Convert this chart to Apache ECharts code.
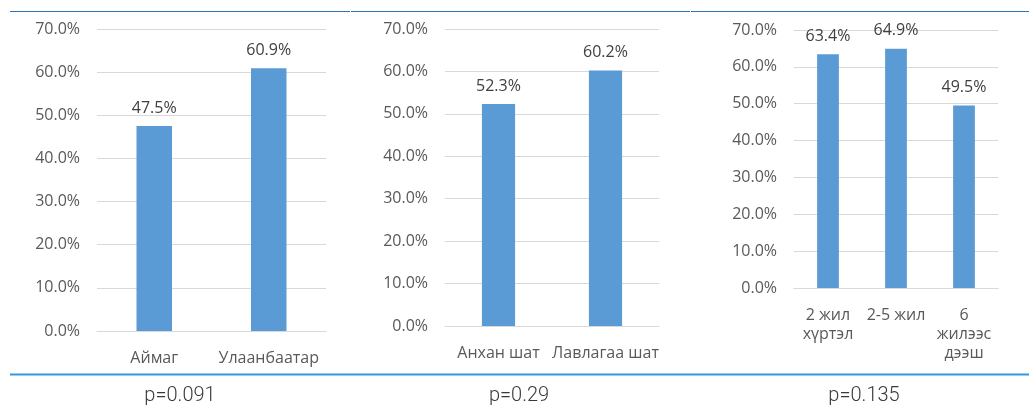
<!DOCTYPE html>
<html>
<head>
<meta charset="utf-8">
<script src="https://cdn.jsdelivr.net/npm/echarts@6/dist/echarts.min.js"></script>
<style>
  html, body { margin: 0; padding: 0; background: #fff; }
  #chart { width: 1029px; height: 408px; }
</style>
</head>
<body>
<div id="chart"></div>
<script>
// Panel 1: location
const locationCategories = ['Аймаг', 'Улаанбаатар'];
const locationValues = [47.5, 60.9];
// Panel 2: level
const levelCategories = ['Анхан шат', 'Лавлагаа шат'];
const levelValues = [52.3, 60.2];
// Panel 3: work experience
const experienceCategories = ['2 жил\nхүртэл', '2-5 жил', '6\nжилээс\nдээш'];
const experienceValues = [63.4, 64.9, 49.5];
// Significance under each panel
const pValueLabels = ['p=0.091', 'p=0.29', 'p=0.135'];

const yMax = 70;
const yInterval = 10;

const BAR = '#5b9bd5';
const GRID_LINE = '#d9d9d9';
const AXIS_TEXT = '#595959';
const FONT = '"Open Sans", "Noto Sans", sans-serif';

const panels = [
  { cats: locationCategories, vals: locationValues, grid: { left: 97, top: 29, width: 229, height: 302 }, barWidth: '31%', pX: 180 },
  { cats: levelCategories, vals: levelValues, grid: { left: 445, top: 29, width: 214, height: 297 }, barWidth: '31%', pX: 519 },
  { cats: experienceCategories, vals: experienceValues, grid: { left: 794, top: 30, width: 204, height: 258 }, barWidth: '32%', pX: 864 }
];

const chart = echarts.init(document.getElementById('chart'), null, { renderer: 'canvas' });

const option = {
  animation: false,
  backgroundColor: '#ffffff',
  grid: panels.map(p => Object.assign({ containLabel: false }, p.grid)),
  xAxis: panels.map((p, i) => ({
    type: 'category',
    gridIndex: i,
    data: p.cats,
    axisLine: { show: true, lineStyle: { color: GRID_LINE, width: 1 } },
    axisTick: { show: false },
    axisLabel: {
      color: AXIS_TEXT, fontFamily: FONT, fontSize: 16, margin: 18,
      lineHeight: 19, interval: 0
    }
  })),
  yAxis: panels.map((p, i) => ({
    type: 'value',
    gridIndex: i,
    min: 0, max: yMax, interval: yInterval,
    axisLine: { show: false },
    axisTick: { show: false },
    splitLine: { show: true, lineStyle: { color: GRID_LINE, width: 1 } },
    axisLabel: {
      color: AXIS_TEXT, fontFamily: FONT, fontSize: 16, margin: 17,
      formatter: v => v.toFixed(1) + '%'
    }
  })),
  series: panels.map((p, i) => ({
    type: 'bar',
    xAxisIndex: i,
    yAxisIndex: i,
    data: p.vals,
    barWidth: p.barWidth,
    itemStyle: { color: BAR },
    label: {
      show: true, position: 'top', distance: 10,
      color: '#404040', fontFamily: FONT, fontSize: 16,
      formatter: d => d.value.toFixed(1) + '%'
    }
  })),
  graphic: [
    // rule above the panels
    { type: 'line', shape: { x1: 10, y1: 11.5, x2: 350, y2: 11.5 }, style: { stroke: '#2e75b6', lineWidth: 1 } },
    { type: 'line', shape: { x1: 351, y1: 11.5, x2: 690, y2: 11.5 }, style: { stroke: '#2e75b6', lineWidth: 1 } },
    { type: 'line', shape: { x1: 691, y1: 11.5, x2: 1029, y2: 11.5 }, style: { stroke: '#2e75b6', lineWidth: 1 } },
    // rule above the p-values
    { type: 'line', shape: { x1: 10, y1: 374.5, x2: 1029, y2: 374.5 }, style: { stroke: '#3399dd', lineWidth: 2 } }
  ].concat(panels.map((p, i) => ({
    type: 'text',
    x: p.pX, y: 396,
    style: {
      text: pValueLabels[i],
      fill: '#3a3a3a',
      font: '300 20px Roboto, sans-serif',
      textAlign: 'center',
      textVerticalAlign: 'middle'
    }
  })))
};

chart.setOption(option);
</script>
</body>
</html>
